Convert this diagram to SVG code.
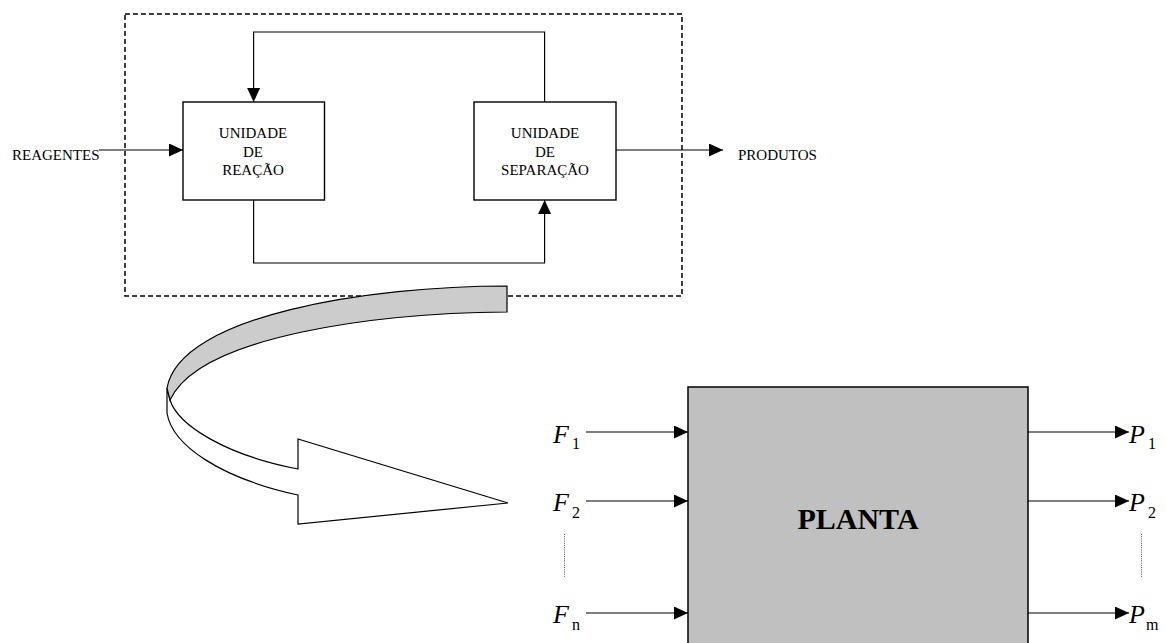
<svg xmlns="http://www.w3.org/2000/svg" width="1166" height="643" viewBox="0 0 1166 643">
<defs>
<style>
.t{font-family:"Liberation Serif","Times New Roman",serif;font-size:15px;fill:#000}
.c{text-anchor:middle}
.box{fill:#fff;stroke:#000;stroke-width:1.4}
.ln{fill:none;stroke:#000;stroke-width:1.2}
.math{font-family:"Liberation Serif","Times New Roman",serif;font-style:italic;font-size:26px;fill:#000}
.sub{font-family:"Liberation Serif","Times New Roman",serif;font-size:16px;fill:#000}
.dot{stroke:#555;stroke-width:1;stroke-dasharray:1,1.2;fill:none}
</style>
<marker id="ah" markerUnits="userSpaceOnUse" markerWidth="14" markerHeight="13" refX="14" refY="6.5" orient="auto">
<path d="M0,0 L14,6.5 L0,13 z" fill="#000"/>
</marker>
</defs>
<rect id="system" x="125" y="14" width="557" height="282" fill="none" stroke="#000" stroke-width="1.5" stroke-dasharray="5,3"/>
<g id="reacao">
<rect class="box" x="183" y="102" width="141.5" height="98"/>
<text class="t c" x="253" y="138">UNIDADE</text>
<text class="t c" x="253" y="157">DE</text>
<text class="t c" x="253" y="175">REAÇÃO</text>
</g>
<g id="separacao">
<rect class="box" x="474" y="102" width="142" height="98"/>
<text class="t c" x="545" y="138">UNIDADE</text>
<text class="t c" x="545" y="157">DE</text>
<text class="t c" x="545" y="175">SEPARAÇÃO</text>
</g>
<g id="reagentes"><text class="t" x="12" y="160">REAGENTES</text></g>
<g id="produtos"><text class="t" x="738" y="160">PRODUTOS</text></g>
<g id="transform-arrow" stroke="#000" stroke-width="1.2" stroke-linejoin="miter">
<path d="M167,388 L167,413 C172,445 220,478 298,495 L298,524 L508,503 L298,439 L298,469 C225,455 178,425 170,400 Z" fill="#fff"/>
<path d="M507,286 L507,312 C380,313 200,335 170,400 L167,388 C180,315 370,286 507,286 Z" fill="#cccccc"/>
</g>
<g id="planta">
<rect x="688" y="387" width="340" height="270" fill="#c0c0c0" stroke="#000" stroke-width="1.5"/>
<text x="858" y="529" text-anchor="middle" font-family="Liberation Serif, Times New Roman, serif" font-weight="bold" font-size="30">PLANTA</text>
</g>
<g id="labels">
<text class="math" x="553" y="443">F</text><text class="sub" x="572" y="449">1</text>
<text class="math" x="553" y="511">F</text><text class="sub" x="572" y="518">2</text>
<text class="math" x="553" y="623">F</text><text class="sub" x="572" y="630">n</text>
<text class="math" x="1129" y="443">P</text><text class="sub" x="1148" y="449">1</text>
<text class="math" x="1129" y="511">P</text><text class="sub" x="1148" y="518">2</text>
<text class="math" x="1129" y="623">P</text><text class="sub" x="1146" y="630">m</text>
</g>
<g id="connectors">
<line class="ln" x1="99" y1="150" x2="183" y2="150" marker-end="url(#ah)"/>
<line class="ln" x1="616" y1="150" x2="723" y2="150" marker-end="url(#ah)"/>
<path class="ln" d="M544.6,102 V32 H253.6 V102" marker-end="url(#ah)"/>
<path class="ln" d="M253.6,200 V263 H544.6 V200" marker-end="url(#ah)"/>
<line class="ln" x1="586" y1="432" x2="688" y2="432" marker-end="url(#ah)"/>
<line class="ln" x1="586" y1="501" x2="688" y2="501" marker-end="url(#ah)"/>
<line class="ln" x1="586" y1="613" x2="688" y2="613" marker-end="url(#ah)"/>
<line class="ln" x1="1028" y1="432" x2="1129" y2="432" marker-end="url(#ah)"/>
<line class="ln" x1="1028" y1="501" x2="1129" y2="501" marker-end="url(#ah)"/>
<line class="ln" x1="1028" y1="613" x2="1129" y2="613" marker-end="url(#ah)"/>
<line class="dot" x1="564.5" y1="534" x2="564.5" y2="577"/>
<line class="dot" x1="1141.5" y1="534" x2="1141.5" y2="577"/>
</g>
</svg>
